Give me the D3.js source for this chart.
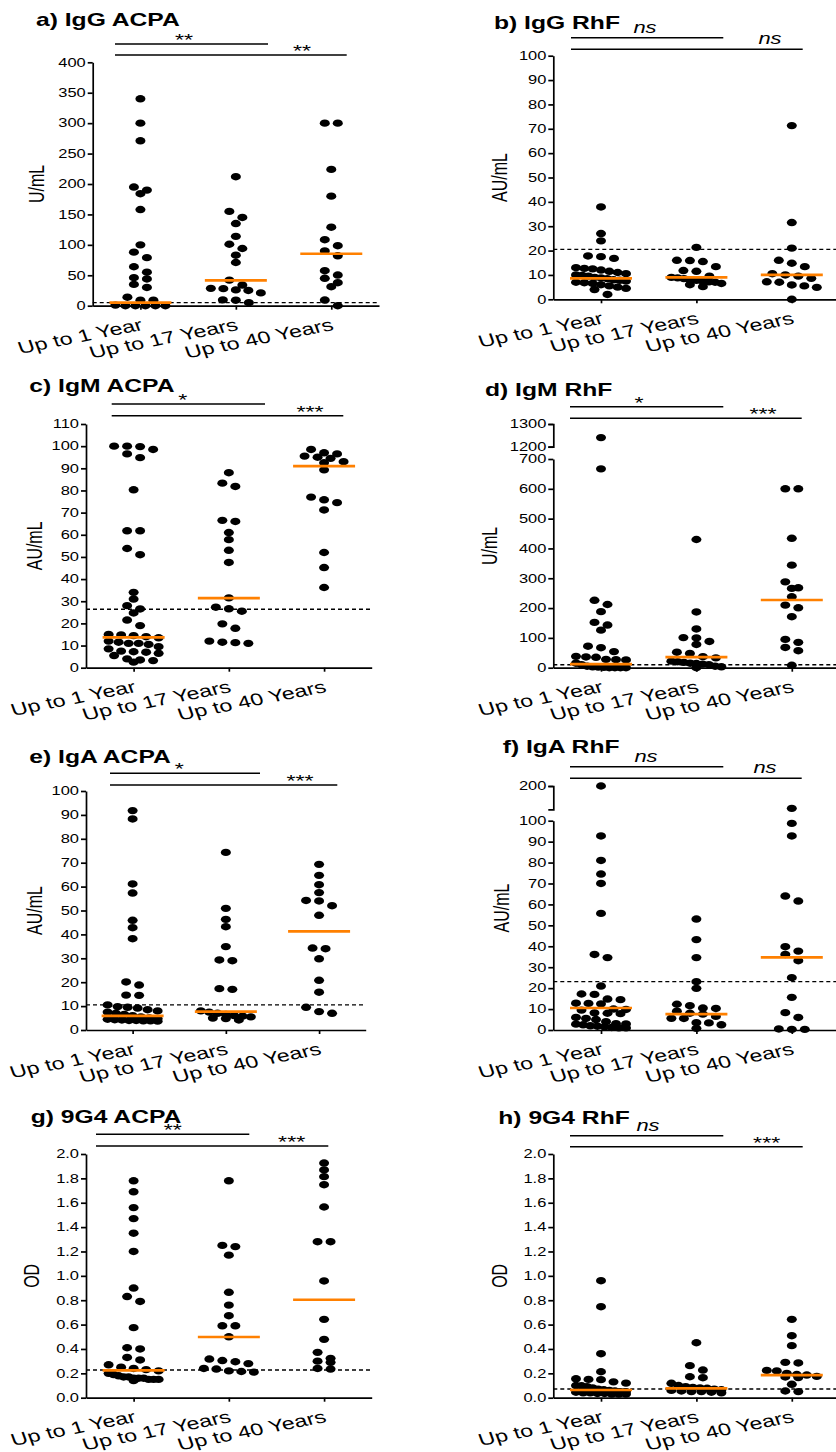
<!DOCTYPE html>
<html lang="en">
<head>
  <meta charset="UTF-8">
  <title>Autoantibody levels by age group</title>
  <script src="https://d3js.org/d3.v7.min.js"></script>
  <style>
    body { margin: 0; background: #fff; }
    text { font-family: "Liberation Sans", Arial, sans-serif; fill: #000; }
    .title { font-size: 18px; font-weight: bold; }
    .unit { font-size: 16px; }
    .tick text { font-size: 12px; }
    .tick text.xlab { font-size: 17px; }
    .sig { font-size: 17px; }
    .ns { font-size: 16px; font-style: italic; }
    .domain, .tick line { stroke: #000; stroke-width: 1.7; }
  </style>
</head>
<body>
<div class="main"></div>
<script>
  let width = 836;
  let height = 1452;
  const SX = 1.37; // the figure is stretched sideways

  let groups = ["Up to 1 Year", "Up to 17 Years", "Up to 40 Years"];

  // a) IgG ACPA (U/mL)
  let igGAcpa = [
    [340, 300, 271, 195, 190, 184, 158, 100, 88, 79, 64, 55, 46, 44, 35, 30, 14, 9, 9, 1, 0, 0, 0, 0, 0],
    [212, 155, 145, 135, 114, 101, 94, 83, 71, 42, 34, 28.5, 28, 26, 25, 21, 9.5, 9, 5],
    [300, 300, 224, 180, 129, 108.5, 98.6, 90, 82, 57.5, 50.4, 45, 37.8, 31.2, 9.3, 0]
  ];
  let igGAcpaMedian = [5, 41.7, 85.4];

  // b) IgG RhF (AU/mL)
  let igGRhf = [
    [37.9, 27, 24, 17.8, 17.5, 16.8, 13, 12.7, 12.5, 12, 11.5, 11, 10.5, 10, 9.8, 9.5, 9, 8.8, 8.5, 8, 7.8, 7.5, 7, 6.8, 6.5, 6, 5.5, 5, 4.5, 4, 2],
    [21.3, 16, 15.9, 15.5, 13.4, 11.8, 11.5, 9.5, 9, 8.8, 8.5, 8, 7.8, 7.5, 7.2, 7, 6.5, 6, 5.2],
    [71.3, 31.5, 21, 16, 14.8, 13.4, 10.5, 10, 9.5, 8.6, 7.2, 7, 5.9, 5.5, 4.9, 0]
  ];
  let igGRhfMedian = [8.6, 9, 10];

  // c) IgM ACPA (AU/mL)
  let igMAcpa = [
    [100, 100, 99.8, 98.5, 96.5, 94.8, 80.3, 61.8, 61.8, 53.8, 51, 34, 31, 28, 26.5, 24.7, 21.5, 19, 15, 14.8, 14.5, 14, 13.5, 12, 11.5, 11, 11, 10.5, 9.5, 8.5, 7.5, 7.2, 7, 6.5, 5.5, 4, 3.5, 3.2, 2.5],
    [88, 83.3, 81.8, 66.5, 66, 61, 57.8, 53, 47.5, 31.5, 27.3, 26.6, 25.5, 19.8, 17.8, 12, 11.5, 11.3, 11],
    [98.5, 97, 96.5, 95.5, 95, 94.5, 93, 92.5, 89.3, 77, 75.8, 74.5, 71.2, 52, 45.2, 36.2]
  ];
  let igMAcpaMedian = [13.7, 31.4, 91];

  // d) IgM RhF (U/mL), broken axis
  let igMRhf = [
    [1240, 667, 226, 212, 188, 152, 143, 126, 72, 67, 54, 38, 36, 35, 28, 27, 26, 15, 10, 5, 3, 2, 1, 0, 0, 0, 0],
    [430, 187, 130, 101, 100, 88, 78, 52, 48, 37, 33, 22, 20, 18, 15, 14, 12, 10, 5, 3, 0],
    [600, 600, 434, 344, 288, 268, 266, 238, 210, 201, 171, 95, 85, 68, 57, 8]
  ];
  let igMRhfMedian = [12.3, 35.8, 227];

  // e) IgA ACPA (AU/mL)
  let igAAcpa = [
    [91.8, 88.3, 61.1, 57.3, 45.9, 42.8, 38.2, 20.1, 18.8, 14.6, 14.5, 10.5, 9.8, 9.5, 9.2, 8.5, 8, 7.5, 7, 6.5, 6, 5.5, 5, 4.8, 4.5, 4.3, 4.2, 4, 4, 3.8, 3.8, 3.7],
    [74.3, 50.9, 46.3, 43.2, 34.9, 29.3, 29, 17.3, 17, 8, 7.5, 7, 6.5, 6, 5.8, 5.5, 5, 4.8, 4.2],
    [69.3, 64.7, 60.8, 57.5, 54.2, 54, 52, 48, 34.3, 34, 29.8, 20.8, 15.8, 9.5, 7.7, 7]
  ];
  let igAAcpaMedian = [5.9, 7.7, 41.3];

  // f) IgA RhF (AU/mL), broken axis
  let igARhf = [
    [200, 92.7, 81, 74.5, 70, 55.7, 36.1, 34.6, 21, 17.2, 17, 14.8, 14.5, 12.8, 12.7, 12.5, 10, 9.8, 9.5, 8.2, 8, 7.8, 6, 5.5, 5, 4, 3, 2.9, 2.8, 2.5, 2, 1.8, 1.5, 1.2, 1, 1],
    [53, 43.2, 34.6, 23.1, 19.9, 12.3, 11.6, 10.5, 10.3, 9, 8, 7.6, 6.5, 5.6, 5.5, 3.5, 3.4, 2.5, 0.8],
    [104, 98.7, 92.7, 64, 61.6, 39.8, 37.7, 36.1, 33.1, 25, 15.6, 8.3, 6, 0.5, 0.3, 0.3]
  ];
  let igARhfMedian = [10.5, 7.6, 34.7];

  // g) 9G4 ACPA (OD)
  let g4Acpa = [
    [1.78, 1.69, 1.56, 1.47, 1.35, 1.2, 0.9, 0.83, 0.79, 0.575, 0.41, 0.4, 0.33, 0.31, 0.27, 0.25, 0.24, 0.23, 0.22, 0.2, 0.19, 0.18, 0.17, 0.17, 0.16, 0.16, 0.16, 0.15, 0.15, 0.15, 0.14],
    [1.78, 1.25, 1.24, 1.17, 0.865, 0.76, 0.673, 0.59, 0.59, 0.5, 0.317, 0.305, 0.295, 0.28, 0.24, 0.235, 0.22, 0.215, 0.21],
    [1.926, 1.869, 1.814, 1.748, 1.565, 1.28, 1.28, 0.958, 0.643, 0.479, 0.372, 0.323, 0.3, 0.29, 0.24, 0.235]
  ];
  let g4AcpaMedian = [0.224, 0.498, 0.804];

  // h) 9G4 RhF (OD)
  let g4Rhf = [
    [0.96, 0.747, 0.361, 0.213, 0.155, 0.15, 0.148, 0.13, 0.12, 0.1, 0.098, 0.09, 0.08, 0.07, 0.065, 0.06, 0.055, 0.05, 0.05, 0.045, 0.04, 0.04, 0.035, 0.035, 0.03, 0.03, 0.03],
    [0.451, 0.263, 0.227, 0.172, 0.164, 0.118, 0.1, 0.09, 0.085, 0.08, 0.077, 0.07, 0.065, 0.06, 0.055, 0.05, 0.05, 0.045, 0.04],
    [0.643, 0.509, 0.427, 0.29, 0.285, 0.224, 0.22, 0.2, 0.19, 0.186, 0.175, 0.17, 0.165, 0.11, 0.055, 0.05]
  ];
  let g4RhfMedian = [0.063, 0.077, 0.186];

  // cut-off (dashed line) per panel a..h
  let cutoffs = [5, 20.5, 26.4, 10, 10.5, 23.1, 0.227, 0.071];

  // tick labels
  let ticks400 = [0, 50, 100, 150, 200, 250, 300, 350, 400];
  let ticks100 = [0, 10, 20, 30, 40, 50, 60, 70, 80, 90, 100];
  let ticks110 = [0, 10, 20, 30, 40, 50, 60, 70, 80, 90, 100, 110];
  let ticks700 = [0, 100, 200, 300, 400, 500, 600, 700];
  let ticksTop1300 = [1200, 1300];
  let ticksTop200 = [200];
  let ticksOD = [0, 0.2, 0.4, 0.6, 0.8, 1.0, 1.2, 1.4, 1.6, 1.8, 2.0];

  // significance marks: [first bracket, second bracket]
  let sigA = ["**", "**"], sigB = ["ns", "ns"], sigC = ["*", "***"], sigD = ["*", "***"];
  let sigE = ["*", "***"], sigF = ["ns", "ns"], sigG = ["**", "***"], sigH = ["ns", "***"];

  let fmtInt = d3.format("d");
  let fmtOD = d3.format(".1f");

  // layout of the eight panels
  let panels = [
    { title: "a) IgG ACPA", tpos: [36, 26], unit: "U/mL", unitX: 37, ax: 92.7, xEnd: 379, y0: 305.7, y1: 62.3,
      dom: [0, 400], ticks: ticks400, fmt: fmtInt, data: igGAcpa, med: igGAcpaMedian, cut: cutoffs[0],
      br: [115, 268, 346.7, 44, 55], sig: sigA, sigX: [184, 302] },
    { title: "b) IgG RhF", tpos: [494, 29.3], unit: "AU/mL", unitX: 500, ax: 553.3, xEnd: 839.5, y0: 299.3, y1: 55.7,
      dom: [0, 100], ticks: ticks100, fmt: fmtInt, data: igGRhf, med: igGRhfMedian, cut: cutoffs[1],
      br: [571, 723.3, 802.7, 37.7, 49.3], sig: sigB, sigX: [645, 770] },
    { title: "c) IgM ACPA", tpos: [29.3, 391.7], unit: "AU/mL", unitX: 35, ax: 86, xEnd: 371.7, y0: 667.7, y1: 424,
      dom: [0, 110], ticks: ticks110, fmt: fmtInt, data: igMAcpa, med: igMAcpaMedian, cut: cutoffs[2],
      br: [111.7, 265, 343.3, 404, 415.7], sig: sigC, sigX: [182.7, 310] },
    { title: "d) IgM RhF", tpos: [485, 396], unit: "U/mL", unitX: 490, ax: 553.3, xEnd: 839.5, y0: 667.7, y1: 459,
      dom: [0, 700], ticks: ticks700, fmt: fmtInt, data: igMRhf, med: igMRhfMedian, cut: cutoffs[3],
      upper: { dom: [1200, 1300], range: [446.7, 424], ticks: ticksTop1300 },
      br: [570, 723.3, 801.7, 406.7, 418.3], sig: sigD, sigX: [639, 763] },
    { title: "e) IgA ACPA", tpos: [29.3, 762.7], unit: "AU/mL", unitX: 35, ax: 86, xEnd: 365.7, y0: 1030, y1: 791,
      dom: [0, 100], ticks: ticks100, fmt: fmtInt, data: igAAcpa, med: igAAcpaMedian, cut: cutoffs[4],
      br: [110, 260, 337.3, 773.3, 785], sig: sigE, sigX: [179.3, 300] },
    { title: "f) IgA RhF", tpos: [502.7, 753.3], unit: "AU/mL", unitX: 501.7, ax: 553.3, xEnd: 839.5, y0: 1030, y1: 820.7,
      dom: [0, 100], ticks: ticks100, fmt: fmtInt, data: igARhf, med: igARhfMedian, cut: cutoffs[5],
      upper: { dom: [100, 200], range: [809.3, 786], ticks: ticksTop200 },
      br: [570, 723.3, 801.7, 766.7, 778.3], sig: sigF, sigX: [646, 765] },
    { title: "g) 9G4 ACPA", tpos: [30.7, 1122.7], unit: "OD", unitX: 31.7, ax: 86, xEnd: 371.7, y0: 1397.7, y1: 1154,
      dom: [0, 2], ticks: ticksOD, fmt: fmtOD, data: g4Acpa, med: g4AcpaMedian, cut: cutoffs[6],
      br: [96, 249.3, 328.3, 1134.3, 1146], sig: sigG, sigX: [172.7, 291.7] },
    { title: "h) 9G4 RhF", tpos: [498.3, 1124.3], unit: "OD", unitX: 500, ax: 553.3, xEnd: 839.5, y0: 1397.7, y1: 1154,
      dom: [0, 2], ticks: ticksOD, fmt: fmtOD, data: g4Rhf, med: g4RhfMedian, cut: cutoffs[7],
      br: [570, 723.3, 802.7, 1135.7, 1146.7], sig: sigH, sigX: [648, 766.7] }
  ];

  let svg = d3.select(".main")
          .append("svg")
          .attr("width", width)
          .attr("height", height)
          .style("display", "block");

  svg.append("rect").attr("width", width).attr("height", height).attr("fill", "#fff");

  // stretched text helper
  function stext(g, x, y, str, cls, anchor) {
    return g.append("text")
            .attr("transform", `translate(${x},${y}) scale(${SX},1)`)
            .attr("text-anchor", anchor || "start")
            .attr("class", cls)
            .text(str);
  }

  // Prism-like scatter: dots with close values share a row, centred on the group
  function swarm(vals, yFn) {
    let W = 13, H = 6.5, L = 25;
    let pts = vals.map(v => ({ v: v, y: yFn(v) })).sort((p, q) => p.y - q.y);
    let rows = [];
    pts.forEach(p => {
      let r = rows[rows.length - 1];
      if (r && p.y - r[0].y < H) r.push(p);
      else rows.push([p]);
    });
    rows.forEach(r => {
      let n = r.length;
      let s = n > 1 ? Math.min(W, 2 * L / (n - 1)) : 0;
      r.forEach((p, j) => { p.dx = (j - (n - 1) / 2) * s; });
    });
    return pts;
  }

  function drawPanel(p) {
    let g = svg.append("g");

    let x = d3.scalePoint().domain(groups).range([p.ax, p.xEnd]).padding(0.5);
    let y = d3.scaleLinear().domain(p.dom).range([p.y0, p.y1]);
    let yUp = p.upper ? d3.scaleLinear().domain(p.upper.dom).range(p.upper.range) : null;
    let yFn = v => (yUp && v > p.dom[1]) ? yUp(v) : y(v);

    // y axis (lower / only segment)
    let ya = g.append("g").attr("transform", `translate(${p.ax},0)`)
            .call(d3.axisLeft(y).tickValues(p.ticks).tickFormat(p.fmt).tickSize(5).tickPadding(2).tickSizeOuter(0));
    ya.selectAll("text").attr("x", -7 / SX).attr("transform", `scale(${SX},1)`);

    if (yUp) {
      let yu = g.append("g").attr("transform", `translate(${p.ax},0)`)
              .call(d3.axisLeft(yUp).tickValues(p.upper.ticks).tickFormat(fmtInt).tickSize(5).tickPadding(2).tickSizeOuter(5));
      yu.selectAll("text").attr("x", -7 / SX).attr("transform", `scale(${SX},1)`);
    }

    // x axis
    let xa = g.append("g").attr("transform", `translate(0,${p.y0})`)
            .call(d3.axisBottom(x).tickSize(4).tickSizeOuter(0));
    xa.selectAll("text")
            .attr("x", null).attr("y", null).attr("dy", null)
            .attr("class", "xlab")
            .attr("text-anchor", "end")
            .attr("transform", `translate(3,24) scale(${SX},1) rotate(-15)`);

    // dots
    p.data.forEach((vals, i) => {
      let pts = swarm(vals, yFn);
      g.append("g").selectAll("ellipse")
              .data(pts)
              .join("ellipse")
              .attr("cx", d => x(groups[i]) + d.dx)
              .attr("cy", d => d.y)
              .attr("rx", 5)
              .attr("ry", 3.7)
              .attr("fill", "#000");
    });

    // cut-off
    g.append("line")
            .attr("x1", p.ax).attr("x2", p.xEnd)
            .attr("y1", y(p.cut)).attr("y2", y(p.cut))
            .attr("stroke", "#000").attr("stroke-width", 1.4)
            .attr("stroke-dasharray", "4,3");

    // medians
    g.append("g").selectAll("line")
            .data(p.med)
            .join("line")
            .attr("x1", (d, i) => x(groups[i]) - 31)
            .attr("x2", (d, i) => x(groups[i]) + 31)
            .attr("y1", d => y(d)).attr("y2", d => y(d))
            .attr("stroke", "#ff8000").attr("stroke-width", 2.7);

    // comparison brackets
    let [bx, bx1, bx2, by1, by2] = p.br;
    g.append("line").attr("x1", bx).attr("x2", bx1).attr("y1", by1).attr("y2", by1)
            .attr("stroke", "#000").attr("stroke-width", 1.5);
    g.append("line").attr("x1", bx).attr("x2", bx2).attr("y1", by2).attr("y2", by2)
            .attr("stroke", "#000").attr("stroke-width", 1.5);
    [by1, by2].forEach((by, i) => {
      let s = p.sig[i];
      if (s === "ns") stext(g, p.sigX[i], by - 5, s, "ns", "middle");
      else stext(g, p.sigX[i], by + 2, s, "sig", "middle");
    });

    // title and unit
    stext(g, p.tpos[0], p.tpos[1], p.title, "title");
    let top = yUp ? p.upper.range[1] : p.y1;
    g.append("text")
            .attr("transform", `translate(${p.unitX + 7},${(p.y0 + top) / 2}) scale(${SX},1) rotate(-90)`)
            .attr("text-anchor", "middle")
            .attr("class", "unit")
            .text(p.unit);
  }

  panels.forEach(drawPanel);
</script>
</body>
</html>
